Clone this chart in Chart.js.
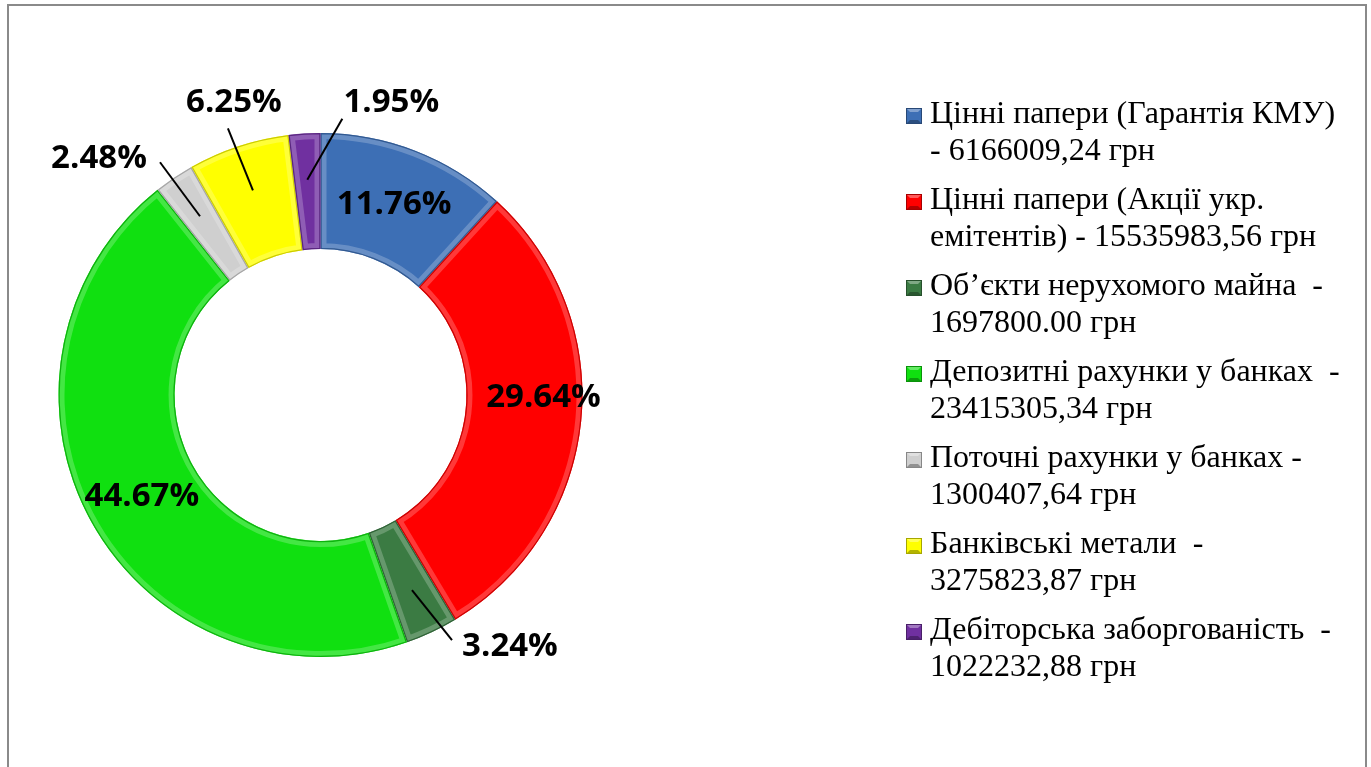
<!DOCTYPE html>
<html>
<head>
<meta charset="utf-8">
<script src="https://cdn.jsdelivr.net/npm/chart.js@4.4.0/dist/chart.umd.min.js"></script>
<style>
    html, body { margin: 0; padding: 0; background: #fff; }
    #wrap { position: relative; width: 1371px; height: 767px; overflow: hidden; }
    #frame { position: absolute; left: 7px; top: 4px; width: 1356px; height: 800px; border: 2px solid #8a8a8a; }
    canvas { position: absolute; left: 0; top: 0; }
</style>
</head>
<body>
<div id="wrap">
    <div id="frame"></div>
    <canvas id="chart" width="1371" height="767"></canvas>
</div>
<script>
// ---- Data ----
const categories = [
    ['Цінні папери (Гарантія КМУ)', '- 6166009,24 грн'],
    ['Цінні папери (Акції укр.', 'емітентів) - 15535983,56 грн'],
    ['Об’єкти нерухомого майна  -', '1697800.00 грн'],
    ['Депозитні рахунки у банках  -', '23415305,34 грн'],
    ['Поточні рахунки у банках -', '1300407,64 грн'],
    ['Банківські метали  -', '3275823,87 грн'],
    ['Дебіторська заборгованість  -', '1022232,88 грн']
];
const amounts = [6166009.24, 15535983.56, 1697800.00, 23415305.34, 1300407.64, 3275823.87, 1022232.88];
const percentLabels = ['11.76%', '29.64%', '3.24%', '44.67%', '2.48%', '6.25%', '1.95%'];
const colors = ['#3d6fb5', '#ff0000', '#3b7b43', '#10e010', '#cfcfcf', '#ffff00', '#7030a0'];

// label placement relative to each slice (inside: from ring middle, outside: from anchor + leader)
const labelLayout = [
    { dx: 0,    dy: 0 },
    { dx: 20,   dy: -18 },
    { dx: 98,   dy: 56,  lx: 40,  ly: 50 },
    { dx: 0,    dy: 3 },
    { dx: -101, dy: -58, lx: -40, ly: -54 },
    { dx: -19,  dy: -88, lx: -25, ly: -62 },
    { dx: 84,   dy: -77, lx: 35,  ly: -61 }
];

function shade(hex, amt) {
    const n = parseInt(hex.slice(1), 16);
    let r = (n >> 16) & 255, g = (n >> 8) & 255, b = n & 255;
    const f = v => Math.max(0, Math.min(255, Math.round(amt < 0 ? v * (1 + amt) : v + (255 - v) * amt)));
    return `rgb(${f(r)},${f(g)},${f(b)})`;
}

// ---- Bevel on slices ----
const bevelPlugin = {
    id: 'bevel',
    afterDatasetsDraw(chart) {
        const ctx = chart.ctx;
        chart.getDatasetMeta(0).data.forEach((arc, i) => {
            const p = arc.getProps(['x', 'y', 'startAngle', 'endAngle', 'innerRadius', 'outerRadius']);
            ctx.save();
            ctx.beginPath();
            ctx.arc(p.x, p.y, p.outerRadius, p.startAngle, p.endAngle);
            ctx.arc(p.x, p.y, p.innerRadius, p.endAngle, p.startAngle, true);
            ctx.closePath();
            ctx.clip();
            ctx.lineJoin = 'round';
            ctx.strokeStyle = 'rgba(255,255,255,0.22)';
            ctx.lineWidth = 12;
            ctx.stroke();
            ctx.strokeStyle = shade(colors[i], -0.2);
            ctx.lineWidth = 2.5;
            ctx.stroke();
            ctx.restore();
        });
    }
};

// ---- Percent labels ----
const labelPlugin = {
    id: 'pctLabels',
    afterDatasetsDraw(chart) {
        const ctx = chart.ctx;
        ctx.save();
        ctx.font = 'bold 33px "Open Sans"';
        ctx.textAlign = 'center';
        ctx.textBaseline = 'middle';
        chart.getDatasetMeta(0).data.forEach((arc, i) => {
            const p = arc.getProps(['x', 'y', 'startAngle', 'endAngle', 'innerRadius', 'outerRadius']);
            const a = (p.startAngle + p.endAngle) / 2;
            const lay = labelLayout[i];
            let r = (p.innerRadius + p.outerRadius) / 2;
            if (lay.lx !== undefined) r = p.innerRadius + (p.outerRadius - p.innerRadius) * 0.6;
            const ax = p.x + r * Math.cos(a), ay = p.y + r * Math.sin(a);
            if (lay.lx !== undefined) {
                ctx.beginPath();
                ctx.moveTo(ax, ay);
                ctx.lineTo(ax + lay.lx, ay + lay.ly);
                ctx.strokeStyle = '#000';
                ctx.lineWidth = 2;
                ctx.stroke();
            }
            ctx.fillStyle = '#000';
            ctx.fillText(percentLabels[i], ax + lay.dx, ay + lay.dy);
        });
        ctx.restore();
    }
};

// ---- Legend ----
const legendPlugin = {
    id: 'sideLegend',
    afterDraw(chart) {
        const ctx = chart.ctx;
        const boxX = 906, textX = 930, firstBase = 123, pitch = 86, lineH = 37, box = 16;
        ctx.save();
        ctx.font = '32px "Liberation Serif"';
        ctx.textBaseline = 'alphabetic';
        ctx.fillStyle = '#000';
        chart.data.labels.forEach((lines, i) => {
            const base = firstBase + i * pitch;
            const bx = boxX, by = base - 15;
            const c = colors[i];
            ctx.fillStyle = c;
            ctx.fillRect(bx, by, box, box);
            // little bevel
            ctx.fillStyle = shade(c, 0.35);
            ctx.beginPath();
            ctx.moveTo(bx, by); ctx.lineTo(bx + box, by); ctx.lineTo(bx + box - 4, by + 4); ctx.lineTo(bx + 4, by + 4);
            ctx.fill();
            ctx.fillStyle = shade(c, -0.3);
            ctx.beginPath();
            ctx.moveTo(bx, by + box); ctx.lineTo(bx + box, by + box); ctx.lineTo(bx + box - 4, by + box - 4); ctx.lineTo(bx + 4, by + box - 4);
            ctx.fill();
            ctx.strokeStyle = shade(c, -0.35);
            ctx.lineWidth = 1;
            ctx.strokeRect(bx + 0.5, by + 0.5, box - 1, box - 1);
            ctx.fillStyle = '#000';
            lines.forEach((t, j) => ctx.fillText(t, textX, base + j * lineH));
        });
        ctx.restore();
    }
};

// ---- Chart ----
new Chart(document.getElementById('chart'), {
    type: 'doughnut',
    data: {
        labels: categories,
        datasets: [{
            data: amounts,
            backgroundColor: colors,
            borderWidth: 0
        }]
    },
    options: {
        responsive: false,
        animation: false,
        cutout: '55.7%',
        layout: { padding: { left: 58, right: 788, top: 133, bottom: 110 } },
        plugins: { legend: { display: false }, tooltip: { enabled: false } },
        events: []
    },
    plugins: [bevelPlugin, labelPlugin, legendPlugin]
});
</script>
</body>
</html>
